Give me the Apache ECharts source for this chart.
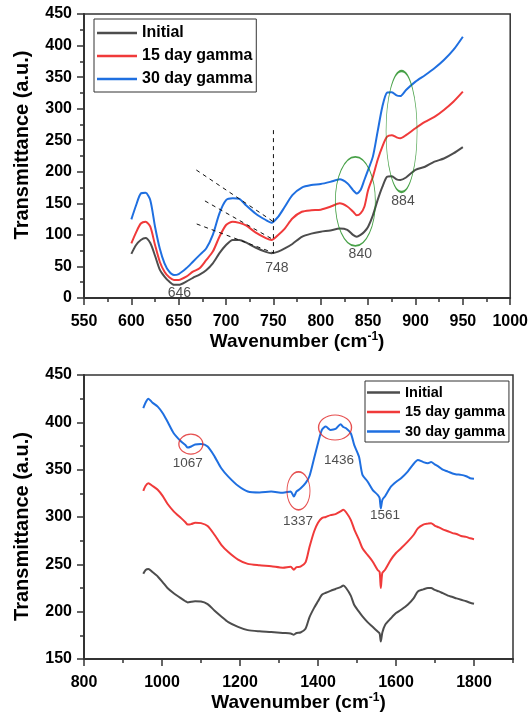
<!DOCTYPE html>
<html>
<head>
<meta charset="utf-8">
<script src="https://cdn.jsdelivr.net/npm/echarts@6/dist/echarts.min.js"></script>
<style>
html,body{margin:0;padding:0;background:#fff;}
#c{width:531px;height:719px;}
</style>
</head>
<body>
<div id="c"></div>
<script>
// ---------- top panel data ----------
const topX = [600,605,610,615,620,625,630,635,640,645,650,658,665,672,679,686,693,700,707,714,721,731,742,748,755,762,770,780,790,800,810,820,828,834,838,842,846,850,855,860,865,870,875,880,884,890,900,910,920,930,940,950];
const topInitial = [70,84,92,95,87,67,45,34,26,21,21,26,32,37,44,55,71,84,92,92,88,80,73,70.8,73.5,78.5,85.6,97,102,105,107,110,108,100,97,100,105,113,131,155,176,192,193,188,187,191,203,208,216,221,229,239];
const top15 = [86.6,104,118,121,113,84,57.5,41.7,32.8,28.6,28.6,33.8,41.7,47,60,73.5,97,115.7,121,119,115,104,95,92,100,110,126,136.6,139,140,144.5,150,145,137,131,134,144.5,171,192,218.7,240,255.6,258,254.6,253,258,269,279,287,298,311,327];
const top30 = [124.6,147,165.6,166.6,155,113,78.5,55,41.7,36.4,38,47,57.5,68,78.5,100,134,155,158,157,147,134,123.6,119.4,128.7,144.5,163,175,179,180.6,184,188,181.7,171,165.6,171,187,203,224,263.6,303,325.5,326,321,320,329.6,342.8,353,364,377,393,414];
const topXTicks = {min:550, max:1000, step:50};
const topYTicks = {min:0, max:450, step:50};
// annotation labels [x, y, text]
const topNotes = [[650.7,8.4,'646'],[753.6,47.5,'748'],[841.7,69.7,'840'],[886.8,154,'884']];
// ellipse centres [x, y]
const topEllipses = [[836.5,153],[885.3,263.9]];
// dashed guide lines [[x1,y1],[x2,y2]]
const topGuides = [
  [[668.6,202.8],[750.6,120.3]],
  [[677.7,153.8],[750.6,91.9]],
  [[669,117.3],[750.6,71.3]],
  [[750,266],[750,71]]
];

// ---------- bottom panel data ----------
const botX = [952,958,965,975,989,1002,1014,1030,1049,1060,1066,1075,1085,1100,1117,1135,1152,1170,1195,1220,1250,1280,1310,1330,1338,1345,1355,1368,1378,1390,1400,1410,1420,1432,1445,1458,1465,1472,1484,1493,1505,1514,1527,1540,1553,1558,1561,1565,1572,1587,1600,1613,1630,1645,1656,1670,1682,1690,1699,1710,1720,1733,1745,1755,1767,1780,1790,1800];
const botInitial = [240,244,245,242,237.2,231,225,219.5,214,211,209.8,210.5,211,210.8,208,201,195,189,184,180.5,179.2,178.5,177.5,177,175.7,177.5,178,182,194,204,211,217.9,220,222,224,226,227.7,225,217,207,200,195,189,184,179,177,168.6,178,186,193,198.5,202,207.3,214,221.4,223.5,225,225,223,221.4,219.5,217,215.5,214,212.5,211,209.5,208.4];
const bot15 = [327.6,333,335.7,333,328.7,322,314,306,298.8,294.5,292,292.5,294,293.5,290.5,281,270.6,263,255,250.5,249,248,246.5,247.5,244.3,247,247.5,252,268,284.7,294,298.8,300,302,303,306,307.6,305,297,287,276,267,260,253,244,242,225,241,244.3,255,262,267,274,281,288,292,293,293.5,291,289,287,285,283,282,280,279,277.5,276.6];
const bot30 = [415,421,425,421,416.6,409.6,400.8,388.5,379.7,376,373.3,374.5,376.5,377,374.4,363.8,351.5,342.7,333,327,326,326.9,325.5,327,321.6,327,330,335.7,343,362,378,392,395.5,392,393,398,395,393.7,388.5,376,363.8,344.5,337.5,328.7,323.4,320,309,318,322,332,337,341,348,356,360.3,358,356.8,358,355.7,353,350,348,346,345,344.5,343,341,340.3];
const botXLabels = [800,1000,1200,1400,1600,1800];
const botXRange = {min:800, max:1900, major:200, minor:100};
const botYTicks = {min:150, max:450, step:50};
const botNotes = [[1066,357,'1067'],[1349,296,'1337'],[1454,360.3,'1436'],[1571.6,302,'1561']];
const botEllipses = [[1074,377],[1350,327.6],[1443.7,394.6]];

const names = ['Initial','15 day gamma','30 day gamma'];
const colors = ['#4d4d4d','#f03a3a','#1f6fe0'];

// ---------- build ----------
const FONT = 'Liberation Sans, Arial, sans-serif';
const pairs = (xs, ys) => xs.map((x,i)=>[x, ys[i]]);
const plain = v => String(v);
const axisLineStyle = {color:'#333', width:2};
const tickLabel = {fontSize:16, fontWeight:'bold', color:'#000', fontFamily:FONT, formatter:plain};
const xNameStyle = {fontSize:19, fontWeight:'bold', color:'#000', fontFamily:FONT,
  rich:{sup:{fontSize:12, fontWeight:'bold', color:'#000', fontFamily:FONT, padding:[0,0,9,0]}}};
const yNameStyle = (pad) => ({fontSize:20, fontWeight:'bold', color:'#000', fontFamily:FONT, padding:pad});
const tickStyle = {color:'#333', width:1.5};

function lineSeries(name, data, xi, color){
  return {type:'line', name, xAxisIndex:xi, yAxisIndex:xi, data, symbol:'none', showSymbol:false,
    smooth:0.25, lineStyle:{color, width:2}, itemStyle:{color}, z:3, silent:true};
}
function guideSeries(data){
  return {type:'line', data, xAxisIndex:0, yAxisIndex:0, symbol:'none', silent:true,
    lineStyle:{color:'#111', width:1, type:[4,4]}, z:4};
}
function noteSeries(notes, xi){
  return {type:'scatter', xAxisIndex:xi, yAxisIndex:xi, symbolSize:0, silent:true, z:6,
    data: notes.map(n=>({value:[n[0],n[1]], name:n[2]})),
    label:{show:true, position:'inside', formatter:'{b}', fontSize: xi===0?14:13.5, color:'#222', fontFamily:FONT}};
}
function ellipseSeries(centres, sizes, xi, color){
  return {type:'scatter', xAxisIndex:xi, yAxisIndex:xi, silent:true, z:5,
    data: centres.map((c,i)=>({value:c, symbolSize:sizes[i]})),
    symbol:'circle',
    itemStyle:{color:'rgba(0,0,0,0)', borderColor:color, borderWidth:1.2}};
}

const series = [];
[topInitial, top15, top30].forEach((ys,i)=>series.push(lineSeries(names[i], pairs(topX, ys), 0, colors[i])));
[botInitial, bot15, bot30].forEach((ys,i)=>series.push(lineSeries(names[i], pairs(botX, ys), 1, colors[i])));
topGuides.forEach(g=>series.push(guideSeries(g)));
series.push(noteSeries(topNotes, 0));
series.push(noteSeries(botNotes, 1));
series.push(ellipseSeries(topEllipses, [[40,89],[31,121]], 0, '#1a8a1a'));
series.push(ellipseSeries(botEllipses, [[24,20],[23,38],[33,25]], 1, '#e02626'));
// empty series bound to the helper axis carrying the bottom minor ticks
series.push({type:'line', xAxisIndex:2, yAxisIndex:1, data:[], silent:true});

const option = {
  animation:false,
  backgroundColor:'#fff',
  grid:[
    {left:84, top:14, width:429, height:284, show:true, borderColor:'#333', borderWidth:1.5, backgroundColor:'transparent'},
    {left:84, top:375, width:429, height:284, show:true, borderColor:'#333', borderWidth:1.5, backgroundColor:'transparent'}
  ],
  legend:[
    {orient:'vertical', left:94, top:19, data:names, icon:'rect', itemWidth:40, itemHeight:2.5, itemGap:7,
     padding:[6,4,5,3], borderColor:'#333', borderWidth:1, backgroundColor:'#fff',
     textStyle:{fontSize:16, fontWeight:'bold', color:'#000', fontFamily:FONT}, selectedMode:false},
    {orient:'vertical', left:365, top:381, data:names, icon:'rect', itemWidth:33, itemHeight:2.5, itemGap:4.5,
     padding:[4,4,3,2], borderColor:'#333', borderWidth:1, backgroundColor:'#fff',
     textStyle:{fontSize:14.5, fontWeight:'bold', color:'#000', fontFamily:FONT}, selectedMode:false}
  ],
  xAxis:[
    {type:'value', gridIndex:0, min:topXTicks.min, max:topXTicks.max, interval:topXTicks.step,
     axisLine:{show:true, lineStyle:axisLineStyle}, axisTick:{show:true, length:7, lineStyle:tickStyle},
     minorTick:{show:true, splitNumber:2, length:4, lineStyle:tickStyle},
     splitLine:{show:false}, axisLabel:Object.assign({margin:16}, tickLabel),
     name:'Wavenumber (cm{sup|-1})', nameLocation:'middle', nameGap:31, nameTextStyle:xNameStyle},
    {type:'value', gridIndex:1, min:botXRange.min, max:botXRange.max, interval:botXRange.major,
     axisLine:{show:true, lineStyle:axisLineStyle},
     axisTick:{show:true, length:7, customValues:botXLabels, lineStyle:tickStyle},
     splitLine:{show:false},
     axisLabel:Object.assign({margin:16, customValues:botXLabels}, tickLabel),
     name:'Wavenumber (cm{sup|-1})', nameLocation:'middle', nameGap:31, nameTextStyle:xNameStyle},
    {type:'value', gridIndex:1, min:botXRange.min, max:botXRange.max, interval:botXRange.minor,
     position:'bottom', offset:0, show:true,
     axisLine:{show:false, onZero:false}, splitLine:{show:false},
     axisLabel:{show:false},
     axisTick:{show:true, length:4, lineStyle:tickStyle}}
  ],
  yAxis:[
    {type:'value', gridIndex:0, min:topYTicks.min, max:topYTicks.max, interval:topYTicks.step,
     axisLine:{show:true, lineStyle:axisLineStyle}, axisTick:{show:true, length:7, lineStyle:tickStyle},
     minorTick:{show:true, splitNumber:2, length:4, lineStyle:tickStyle},
     splitLine:{show:false}, axisLabel:Object.assign({margin:12}, tickLabel),
     name:'Transmittance (a.u.)', nameLocation:'middle', nameGap:52, nameTextStyle:yNameStyle([0,0,0,22])},
    {type:'value', gridIndex:1, min:botYTicks.min, max:botYTicks.max, interval:botYTicks.step,
     axisLine:{show:true, lineStyle:axisLineStyle}, axisTick:{show:true, length:7, lineStyle:tickStyle},
     minorTick:{show:true, splitNumber:2, length:4, lineStyle:tickStyle},
     splitLine:{show:false}, axisLabel:Object.assign({margin:12}, tickLabel),
     name:'Transmittance (a.u.)', nameLocation:'middle', nameGap:52, nameTextStyle:yNameStyle([0,19,0,0])}
  ],
  series
};
const chart = echarts.init(document.getElementById('c'), null, {renderer:'canvas'});
chart.setOption(option);
</script>
</body>
</html>
